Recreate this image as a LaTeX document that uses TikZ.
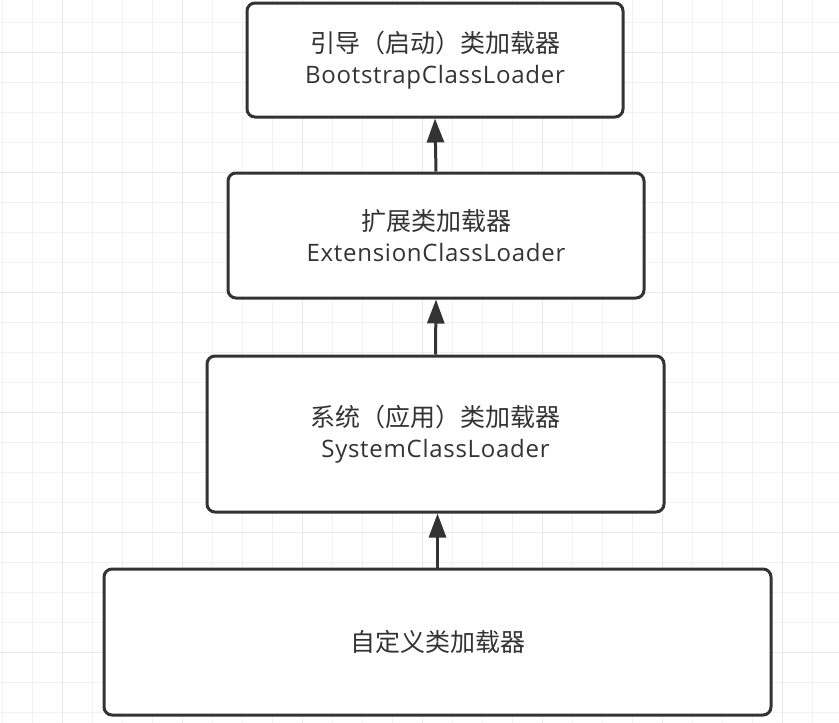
\documentclass[tikz,border=0pt]{standalone}
\usepackage{fontspec}
\setmainfont[LetterSpace=3]{Open Sans}
\newfontfamily\cjk{Noto Sans CJK SC}
\usetikzlibrary{arrows.meta}
\definecolor{linegray}{HTML}{333333}
\definecolor{gridminor}{HTML}{F2F2F2}
\definecolor{gridmajor}{HTML}{E8E8E8}

\begin{document}
\begin{tikzpicture}[x=1pt, y=-1pt,
    loader/.style = {draw=linegray, line width=3pt, rounded corners=8pt, fill=white,
                     align=center, text=linegray, inner sep=0pt,
                     font=\fontsize{24}{31}\selectfont},
    up/.style = {draw=linegray, line width=3pt, -{Triangle[length=24pt,width=17pt]}}]
    \useasboundingbox (0,0) rectangle (839,723);
    % background grid
    \foreach \gx in {2,32,...,839}
        \draw[gridminor, line width=1pt] (\gx,0) -- (\gx,723);
    \foreach \gy in {22,52,...,723}
        \draw[gridminor, line width=1pt] (0,\gy) -- (839,\gy);
    \foreach \gx in {62,182,...,839}
        \draw[gridmajor, line width=1pt] (\gx,0) -- (\gx,723);
    \foreach \gy in {52,172,...,723}
        \draw[gridmajor, line width=1pt] (0,\gy) -- (839,\gy);
    % loaders
    \node[loader, minimum width=376pt, minimum height=114pt] (boot) at (435,60)
        {{\cjk\fontsize{25}{31}\selectfont 引导（启动）类加载器}\\BootstrapClassLoader};
    \node[loader, minimum width=416pt, minimum height=125pt] (ext) at (436,235.5)
        {{\cjk\fontsize{25}{31}\selectfont 扩展类加载器}\\ExtensionClassLoader};
    \node[loader, minimum width=457pt, minimum height=156pt] (sys) at (435.5,434)
        {{\cjk\fontsize{25}{31}\selectfont 系统（应用）类加载器}\\SystemClassLoader};
    \node[loader, minimum width=667pt, minimum height=146pt] (custom) at (437.5,642)
        {{\cjk\fontsize{25}{31}\selectfont 自定义类加载器}};
    % delegation
    \draw[up] (ext.north) -- (boot.south);
    \draw[up] (sys.north) -- (ext.south);
    \draw[up] (custom.north) -- (custom.north |- sys.south);
\end{tikzpicture}
\end{document}
